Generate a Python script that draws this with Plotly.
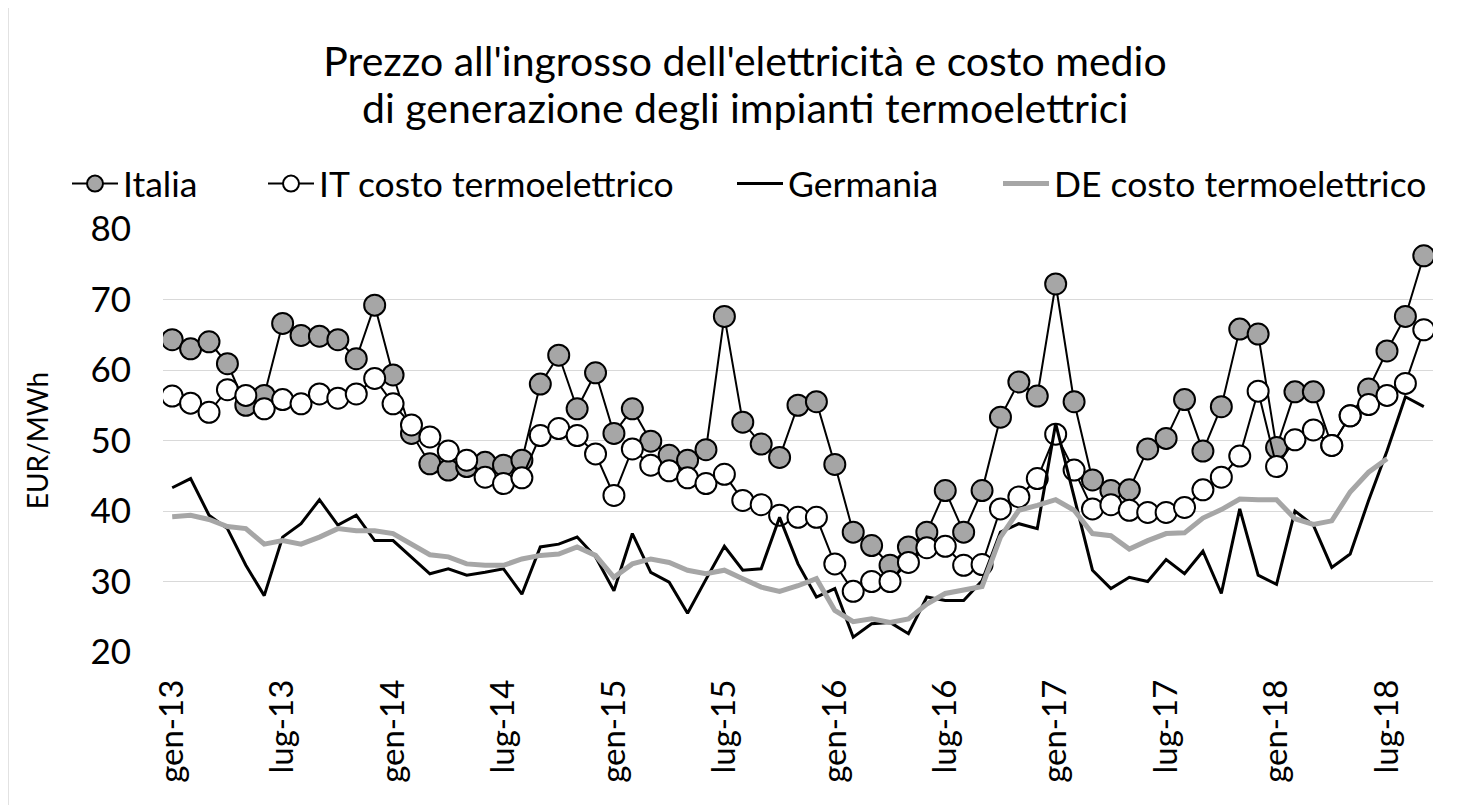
import plotly.graph_objects as go

# ---- data ----
month_abbr = ["gen", "feb", "mar", "apr", "mag", "giu", "lug", "ago", "set", "ott", "nov", "dic"]
years = ["13", "14", "15", "16", "17", "18"]
categories = [f"{m}-{y}" for y in years for m in month_abbr][:69]  # gen-13 .. set-18

italia = [64.3, 63.0, 64.0, 60.9, 55.0, 56.4, 66.6, 64.9, 64.8, 64.3, 61.6, 69.2,
          59.3, 51.0, 46.7, 45.8, 46.3, 46.9, 46.5, 47.2, 58.0, 62.1, 54.5, 59.6,
          51.0, 54.5, 49.9, 47.9, 47.2, 48.7, 67.6, 52.6, 49.5, 47.6, 55.0, 55.5,
          46.6, 37.0, 35.1, 32.3, 34.9, 37.0, 42.9, 37.0, 42.9, 53.3, 58.3, 56.3,
          72.2, 55.5, 44.4, 42.9, 43.0, 48.8, 50.3, 55.8, 48.5, 54.8, 65.8, 65.1,
          49.0, 56.9, 56.9, 49.3, 53.5, 57.3, 62.7, 67.6, 76.2]

it_costo = [56.3, 55.3, 54.0, 57.2, 56.4, 54.5, 55.8, 55.2, 56.6, 56.0, 56.6, 58.8,
            55.2, 52.2, 50.5, 48.5, 47.2, 44.8, 43.9, 44.7, 50.7, 51.7, 50.7, 48.1,
            42.2, 48.8, 46.5, 45.7, 44.7, 43.9, 45.2, 41.5, 40.9, 39.4, 39.1, 39.1,
            32.5, 28.6, 30.0, 30.0, 32.7, 34.8, 35.0, 32.3, 32.4, 40.3, 42.0, 44.6,
            50.9, 45.8, 40.3, 40.9, 40.1, 39.8, 39.8, 40.5, 43.0, 44.8, 47.8, 57.0,
            46.3, 50.1, 51.5, 49.3, 53.5, 55.1, 56.4, 58.1, 65.7]

germania = [43.3, 44.6, 39.4, 37.5, 32.3, 28.0, 36.3, 38.2, 41.6, 38.0, 39.4, 35.8,
            35.8, 33.5, 31.1, 31.8, 30.9, 31.3, 31.8, 28.2, 34.9, 35.3, 36.3, 33.5,
            28.7, 36.8, 31.3, 29.9, 25.5, 30.3, 35.0, 31.6, 31.8, 39.1, 32.5, 27.8,
            29.0, 22.1, 24.0, 24.2, 22.6, 27.8, 27.3, 27.3, 30.1, 37.0, 38.2, 37.5,
            52.4, 42.0, 31.6, 29.0, 30.6, 30.0, 33.1, 31.1, 34.3, 28.3, 40.3, 30.9,
            29.6, 40.0, 38.0, 32.0, 33.9, 41.5, 48.5, 56.2, 54.8]

de_costo = [39.2, 39.4, 38.8, 37.8, 37.5, 35.3, 35.8, 35.3, 36.3, 37.5, 37.2, 37.2,
            36.8, 35.3, 33.8, 33.5, 32.5, 32.3, 32.3, 33.2, 33.7, 33.9, 34.9, 33.7,
            30.6, 32.5, 33.2, 32.7, 31.6, 31.1, 31.6, 30.4, 29.2, 28.6, 29.4, 30.4,
            25.9, 24.3, 24.7, 24.2, 24.7, 26.8, 28.3, 28.8, 29.3, 36.3, 40.1, 40.8,
            41.6, 40.1, 36.8, 36.5, 34.6, 35.8, 36.8, 36.9, 39.0, 40.2, 41.7, 41.6,
            41.6, 38.9, 38.1, 38.6, 42.7, 45.5, 47.4, None, None]

tick_labels = categories[::6]

series_names = ["Italia", "IT costo termoelettrico", "Germania", "DE costo termoelettrico"]
title_lines = ["Prezzo all'ingrosso dell'elettricità e costo medio",
               "di generazione degli impianti termoelettrici"]

# ---- styling ----
FONT = "Lato"
OFF = 8  # page body margin of the html document
W, H = 1482 - OFF, 805 - OFF
L, R, T, B = 163 - OFF, 49, 229 - OFF, 153
plot_w = W - L - R
plot_h = H - T - B


def px_to_paper_x(page_px):
    return (page_px - OFF - L) / plot_w


def px_to_paper_y(page_py):
    return (H - B - (page_py - OFF)) / plot_h


fig = go.Figure()

fig.add_trace(go.Scatter(
    x=categories, y=italia, name=series_names[0], mode="lines+markers",
    line=dict(color="black", width=2),
    marker=dict(size=21, color="#a6a6a6", line=dict(color="black", width=2)),
    legend="legend",
))
fig.add_trace(go.Scatter(
    x=categories, y=it_costo, name=series_names[1], mode="lines+markers",
    line=dict(color="black", width=2),
    marker=dict(size=21, color="white", line=dict(color="black", width=2)),
    legend="legend2",
))
fig.add_trace(go.Scatter(
    x=categories, y=germania, name=series_names[2], mode="lines",
    line=dict(color="black", width=3),
    legend="legend3",
))
fig.add_trace(go.Scatter(
    x=categories, y=de_costo, name=series_names[3], mode="lines",
    line=dict(color="#a6a6a6", width=5),
    connectgaps=False,
    legend="legend4",
))

leg_y = px_to_paper_y(184)
leg_common = dict(orientation="h", yanchor="middle", y=leg_y, xanchor="left",
                  font=dict(family=FONT, size=35.5, color="black"),
                  bgcolor="rgba(0,0,0,0)", itemwidth=46, itemsizing="trace")

fig.update_layout(
    width=W, height=H,
    margin=dict(l=L, r=R, t=T, b=B, autoexpand=False),
    paper_bgcolor="white", plot_bgcolor="white",
    font=dict(family=FONT, size=34, color="black"),
    title=dict(
        text=title_lines[0],
        x=(745 - OFF) / W, xref="container", xanchor="center",
        y=1 - (62 - OFF) / H, yref="container", yanchor="middle",
        font=dict(family=FONT, size=41, color="black"),
    ),
    annotations=[
        dict(text=title_lines[1], xref="paper", yref="paper",
             x=px_to_paper_x(745), y=px_to_paper_y(108),
             xanchor="center", yanchor="middle", showarrow=False,
             font=dict(family=FONT, size=41, color="black")),
    ],
    showlegend=True,
    legend=dict(**leg_common, x=px_to_paper_x(74 - 7)),
    legend2=dict(**leg_common, x=px_to_paper_x(270 - 7)),
    legend3=dict(**leg_common, x=px_to_paper_x(739 - 7)),
    legend4=dict(**leg_common, x=px_to_paper_x(1005 - 7)),
    xaxis=dict(
        type="category",
        categoryorder="array", categoryarray=categories,
        range=[-0.5, len(categories) - 0.5],
        tickmode="array", tickvals=tick_labels, ticktext=tick_labels,
        tickangle=-90, ticks="", showgrid=False, zeroline=False,
        showline=False, ticklabelstandoff=20, automargin=False,
        tickfont=dict(family=FONT, size=33, color="black"),
    ),
    yaxis=dict(
        range=[20, 80], tickvals=[20, 30, 40, 50, 60, 70, 80],
        showgrid=True, gridcolor="#d9d9d9", gridwidth=1.3,
        zeroline=False, showline=False, ticks="",
        ticklabelstandoff=31, automargin=False,
        tickfont=dict(family=FONT, size=35, color="black"),
        title=dict(text="EUR/MWh", font=dict(family=FONT, size=28, color="black"),
                   standoff=33),
    ),
    shapes=[dict(type="line", xref="paper", yref="paper",
                 x0=px_to_paper_x(OFF), x1=px_to_paper_x(OFF),
                 y0=px_to_paper_y(OFF), y1=px_to_paper_y(805),
                 line=dict(color="#d9d9d9", width=1.5))],
)

fig.write_html("out.html")
